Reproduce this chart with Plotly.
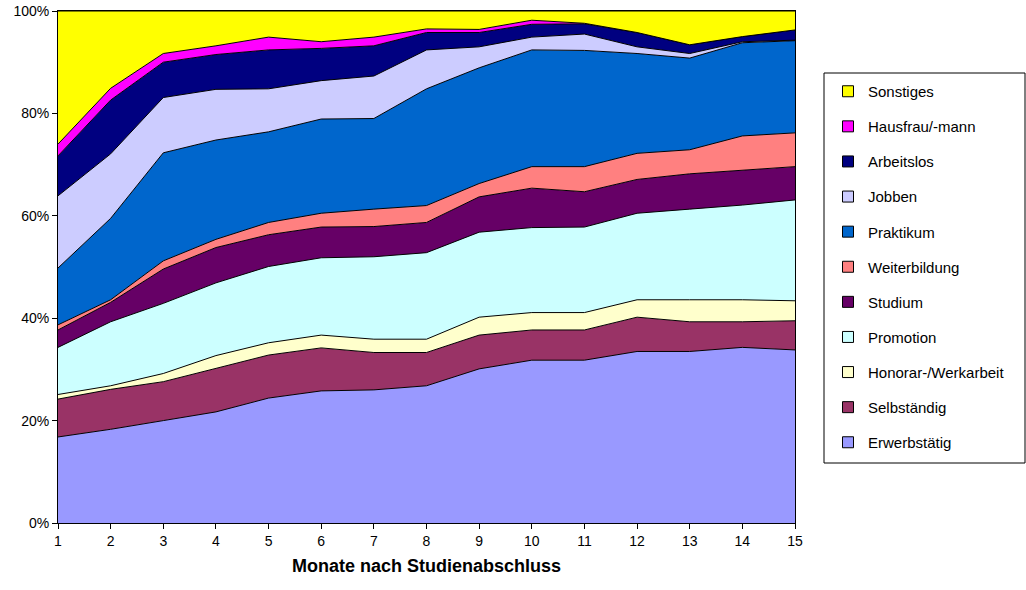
import plotly.graph_objects as go

months = list(range(1, 16))
tick_labels = [str(m) for m in months]

erwerbstaetig = [16.8, 18.3, 20.0, 21.7, 24.4, 25.8, 26.0, 26.8, 30.1, 31.8, 31.8, 33.5, 33.5, 34.3, 33.8]
selbstaendig = [7.4, 7.8, 7.6, 8.5, 8.4, 8.4, 7.3, 6.5, 6.6, 5.9, 5.9, 6.7, 5.8, 5.0, 5.7]
honorar = [0.9, 0.7, 1.6, 2.5, 2.4, 2.5, 2.6, 2.6, 3.5, 3.4, 3.4, 3.4, 4.3, 4.3, 3.9]
promotion = [9.2, 12.5, 13.7, 14.2, 14.9, 15.1, 16.1, 16.9, 16.6, 16.6, 16.7, 16.9, 17.7, 18.5, 19.7]
studium = [3.4, 3.8, 6.7, 6.9, 6.2, 6.0, 5.9, 5.9, 6.9, 7.7, 6.9, 6.6, 6.9, 6.8, 6.5]
weiterbildung = [1.0, 0.5, 1.6, 1.6, 2.4, 2.7, 3.4, 3.3, 2.6, 4.2, 4.9, 5.1, 4.7, 6.7, 6.6]
praktikum = [11.1, 15.9, 21.1, 19.4, 17.7, 18.4, 17.7, 22.8, 22.6, 22.8, 22.7, 19.5, 17.9, 18.2, 18.0]
jobben = [14.1, 12.6, 10.8, 9.9, 8.4, 7.5, 8.3, 7.6, 4.1, 2.5, 3.2, 1.3, 0.9, 0.2, 0.1]
arbeitslos = [7.8, 10.5, 6.9, 6.8, 7.6, 6.3, 5.9, 3.4, 2.8, 2.5, 2.0, 2.8, 1.7, 1.0, 2.0]
hausfrau = [2.3, 2.3, 1.7, 1.7, 2.5, 1.3, 1.7, 0.7, 0.6, 0.8, 0.1, 0.0, 0.0, 0.0, 0.0]
sonstiges = [26.0, 15.1, 8.3, 6.8, 5.1, 6.0, 5.0, 3.5, 3.6, 1.8, 2.4, 4.2, 6.6, 5.0, 3.7]

series = [
    ("Erwerbstätig", erwerbstaetig, "#9999FF"),
    ("Selbständig", selbstaendig, "#993366"),
    ("Honorar-/Werkarbeit", honorar, "#FFFFCC"),
    ("Promotion", promotion, "#CCFFFF"),
    ("Studium", studium, "#660066"),
    ("Weiterbildung", weiterbildung, "#FF8080"),
    ("Praktikum", praktikum, "#0066CC"),
    ("Jobben", jobben, "#CCCCFF"),
    ("Arbeitslos", arbeitslos, "#000080"),
    ("Hausfrau/-mann", hausfrau, "#FF00FF"),
    ("Sonstiges", sonstiges, "#FFFF00"),
]

fig = go.Figure()
for name, vals, color in series:
    fig.add_trace(go.Scatter(
        x=months, y=vals, name=name, mode="lines",
        stackgroup="one", fillcolor=color,
        line=dict(color="black", width=1),
        showlegend=False,
    ))

# legend entries with square swatches, top-to-bottom = Sonstiges ... Erwerbstätig
for name, vals, color in reversed(series):
    fig.add_trace(go.Scatter(
        x=[None], y=[None], name=name, mode="markers",
        marker=dict(symbol="square", size=11, color=color,
                    line=dict(color="black", width=1)),
        legendgroup=name, showlegend=True, hoverinfo="skip",
    ))

font = "Liberation Sans, Arial, sans-serif"

W, H = 1026, 590
px_l, px_r, px_t, px_b = 58, 795, 11, 523

def xp(px):
    return (px - px_l) / (px_r - px_l)

def yp(py):
    return (px_b - py) / (px_b - px_t)

fig.add_shape(type="rect", xref="paper", yref="paper",
              x0=xp(824), x1=xp(1025), y0=yp(463), y1=yp(73),
              line=dict(color="black", width=1), fillcolor="white", layer="below")

fig.update_layout(
    width=W, height=H,
    margin=dict(l=px_l, r=W - px_r, t=px_t, b=H - px_b),
    paper_bgcolor="white", plot_bgcolor="white",
    font=dict(family=font, size=14, color="black"),
    showlegend=True,
    legend=dict(
        x=xp(828), y=yp(75), xanchor="left", yanchor="top",
        traceorder="grouped", tracegroupgap=12.6,
        borderwidth=0, bgcolor="rgba(0,0,0,0)",
        font=dict(family=font, size=15, color="black"),
    ),
    xaxis=dict(
        range=[1, 15], tickmode="array", tickvals=months, ticktext=tick_labels,
        ticks="outside", ticklen=5, tickcolor="black",
        showline=True, linecolor="black", linewidth=1, mirror=True,
        showgrid=False, zeroline=False, automargin=False,
        tickfont=dict(size=14),
        title=dict(text="<b>Monate nach Studienabschluss</b>", font=dict(size=18), standoff=11),
    ),
    yaxis=dict(
        range=[0, 100], dtick=20, ticksuffix="%",
        ticks="outside", ticklen=5, tickcolor="black",
        showline=True, linecolor="black", linewidth=1, mirror=True,
        showgrid=False, zeroline=False, automargin=False,
        tickfont=dict(size=14),
    ),
)

fig.write_html("out.html",
               config={"displayModeBar": False},
               post_script="document.body.style.margin='0';document.body.style.overflow='hidden';")
